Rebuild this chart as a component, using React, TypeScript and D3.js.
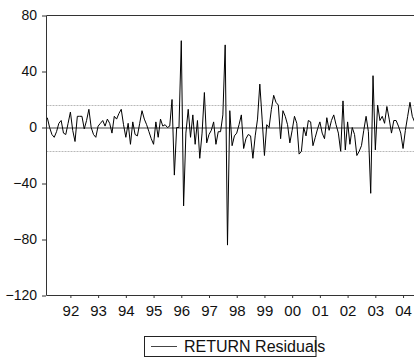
import * as d3 from "d3";
import React, { useRef, useEffect } from 'react'

// monthly residuals, 1991:03 .. 2004:06
const residuals = [
  7, 0, -5, -7, -3, 3, 5, -4, -5, 3,
  11, -2, -10, 8, 8, 8, -1, 5, 13, 0, -5, -7,
  1, 3, 5, 1, 6, 3, -4, 8, 6, 10, 13, 2,
  -7, 3, -12, 4, -5, -6, 3, 12, 6, 2, -3, -8,
  -12, 4, -7, 6, 1, 2, 0, 1, 20, -34, 0, 0,
  62, -56, -4, 13, -7, 9, -12, 5, -22, -4, 25, -11,
  -5, -2, 4, -12, -3, -3, 9, 59, -84, 12, -13, -6,
  -4, 2, 9, -15, -8, -5, -6, -22, -6, 6, 31, 6,
  -20, 2, 0, 13, 23, 18, 16, -8, 12, 8, 2, -11,
  -2, 8, 3, -19, -17, 0, -6, 5, 4, -13, -7, -1,
  4, -4, -8, 7, -2, 5, 9, 2, -4, -17, 19, -16,
  4, -12, 0, -5, -20, -17, -13, -2, 8, -3, -47, 37,
  -16, 16, 5, 8, 3, 15, 6, -4, 5, 5, 1, -4,
  -15, -2, 8, 18, 8, 4,
]
const startYear = 1991
const startMonth = 3
const yearTicks = [1992, 1993, 1994, 1995, 1996, 1997, 1998, 1999, 2000, 2001, 2002, 2003, 2004]
const yearLabels = ["92", "93", "94", "95", "96", "97", "98", "99", "00", "01", "02", "03", "04"]
const yTicks = [80, 40, 0, -40, -80, -120]
const seBand = [16, -17]
const legendLabel = "RETURN Residuals"

const FONT = "'Liberation Sans', Arial, Helvetica, sans-serif"

const App: React.FC = () => {
  const gx = useRef(null)
  const gy = useRef(null)

  const t0 = startYear + (startMonth - 1) / 12
  const times = residuals.map((_, i) => t0 + i / 12)
  const x = d3.scaleLinear([t0, times[times.length - 1]], [47.3, 414.6])
  const y = d3.scaleLinear([-120, 80], [295.5, 15.5])
  const left = 46.5, right = 415.5

  const line = d3.line<number>((_, i) => x(times[i]), (d) => y(d))

  useEffect(() => {
    if (gx.current) {
      const g = d3.select(gx.current as SVGGElement)
        .call(d3.axisBottom(x).tickValues(yearTicks).tickFormat((_, i) => yearLabels[i]).tickSize(3).tickPadding(7))
      g.select('.domain').remove()
      g.attr('font-size', 15).attr('font-family', FONT)
      g.selectAll('line').attr('stroke', '#333')
      g.selectAll('text').attr('fill', '#111')
    }
    if (gy.current) {
      const g = d3.select(gy.current as SVGGElement)
        .call(d3.axisLeft(y).tickValues(yTicks).tickSize(4).tickPadding(5))
      g.select('.domain').remove()
      g.attr('font-size', 14).attr('font-family', FONT)
      g.selectAll('line').attr('stroke', '#333')
      g.selectAll('text').attr('fill', '#111')
    }
  }, [])

  return (
    <svg width={414} height={358} style={{ position: 'absolute', left: 0, top: 0, background: '#fff' }}>
      {seBand.map((v) => (
        <line key={v} x1={left} x2={right} y1={Math.round(y(v)) + 0.5} y2={Math.round(y(v)) + 0.5}
          stroke="#b8b8b8" strokeDasharray="2,1" />
      ))}
      <line x1={left} x2={right} y1={y(0) + 0.5} y2={y(0) + 0.5} stroke="#444" strokeWidth={1.2} />
      <path d={line(residuals) || ""} fill="none" stroke="#000" strokeWidth={1} />
      <path d={`M${right},${y(80)}H${left}V${y(-120)}H${right}`} fill="none" stroke="#333" />
      <g ref={gx} transform={`translate(0, ${y(-120) - 0.5})`} />
      <g ref={gy} transform={`translate(${left - 0.5}, 0)`} />
      <g>
        <rect x={144.5} y={336.5} width={171.5} height={20} fill="#fff" stroke="#222" />
        <line x1={151} x2={177} y1={346.5} y2={346.5} stroke="#444" />
        <text x={184} y={352} fontSize={16} fontFamily={FONT} fill="#111">{legendLabel}</text>
      </g>
    </svg>
  )
}

export default App
